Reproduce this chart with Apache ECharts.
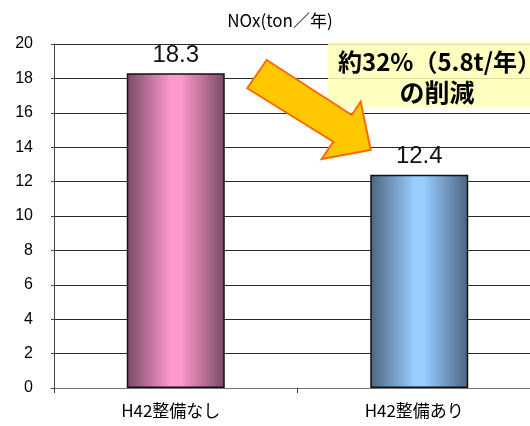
<!DOCTYPE html>
<html>
<head>
<meta charset="utf-8">
<script src="https://cdn.jsdelivr.net/npm/echarts@6/dist/echarts.min.js"></script>
<style>
  html, body { margin: 0; padding: 0; background: #fff; }
  #chart { width: 530px; height: 426px; }
</style>
</head>
<body>
<div id="chart"></div>
<script>
// NOx emissions before / after the H42 improvement
const categories = ['H42整備なし', 'H42整備あり'];
const nox = [18.3, 12.4];
const yTicks = [0, 2, 4, 6, 8, 10, 12, 14, 16, 18, 20];
const unitTitle = 'NOx(ton／年)';
const noteLines = ['約32%（5.8t/年）', 'の削減'];

const jp = '"Noto Sans CJK JP", "Noto Sans", sans-serif';
const latin = 'Arial, "Liberation Sans", sans-serif';

function barGradient(edge, mid) {
  return new echarts.graphic.LinearGradient(0, 0, 1, 0, [
    { offset: 0, color: edge },
    { offset: 0.45, color: mid },
    { offset: 0.55, color: mid },
    { offset: 1, color: edge }
  ]);
}
const fills = [
  barGradient('#794a66', '#ff99cc'),
  barGradient('#4a6480', '#99ccff')
];

const chart = echarts.init(document.getElementById('chart'));
chart.setOption({
  animation: false,
  title: {
    text: unitTitle,
    left: 275, top: 7, textAlign: 'center',
    textStyle: { fontFamily: jp, fontSize: 17, fontWeight: 'normal', color: '#000' }
  },
  // plot area runs slightly past the right edge of the canvas
  grid: {
    left: 54, top: 44, width: 487, bottom: 38,
    containLabel: false, outerBoundsMode: 'none'
  },
  xAxis: {
    type: 'category',
    data: categories,
    axisLine: { lineStyle: { color: '#777', width: 1 } },
    axisTick: { show: true, alignWithLabel: false, length: 5, lineStyle: { color: '#333' } },
    axisLabel: { fontFamily: jp, fontSize: 17, color: '#000', margin: 14, padding: [0, 10, 0, 0] }
  },
  yAxis: {
    type: 'value',
    min: yTicks[0], max: yTicks[yTicks.length - 1], interval: 2,
    axisLine: { show: true, lineStyle: { color: '#444' } },
    axisTick: { show: true, length: 3, lineStyle: { color: '#444' } },
    axisLabel: { fontFamily: latin, fontSize: 16, color: '#000', margin: 21 },
    splitLine: { lineStyle: { color: '#2a2a2a', width: 1 } }
  },
  series: [{
    type: 'bar',
    barWidth: 98,
    data: nox.map((v, i) => ({ value: v, itemStyle: { color: fills[i] } })),
    itemStyle: { borderColor: '#111', borderWidth: 1.5 },
    label: {
      show: true, position: 'top', distance: 6,
      fontFamily: latin, fontSize: 24, color: '#111',
      formatter: p => p.value.toFixed(1)
    },
    z: 3
  }],
  graphic: [
    {
      type: 'rect', z: 10,
      shape: { x: 328, y: 42, width: 215, height: 65 },
      style: { fill: 'rgba(255,255,180,0.85)' }
    },
    {
      type: 'text', z: 11,
      style: {
        x: 338, y: 62, text: noteLines[0], align: 'left', verticalAlign: 'middle',
        font: 'bold 24px ' + jp, fill: '#000'
      }
    },
    {
      type: 'text', z: 11,
      style: {
        x: 437, y: 92, text: noteLines[1], align: 'center', verticalAlign: 'middle',
        font: 'bold 25px ' + jp, fill: '#000'
      }
    },
    {
      type: 'polygon', z: 12,
      shape: {
        points: [[266.7, 60], [351.7, 115], [360.7, 101.7], [370.7, 150],
                 [321.7, 159], [333.3, 141.7], [247.3, 88.3]]
      },
      style: { fill: '#ffc800', stroke: '#ff6a00', lineWidth: 2, lineJoin: 'miter' }
    }
  ]
});
</script>
</body>
</html>
